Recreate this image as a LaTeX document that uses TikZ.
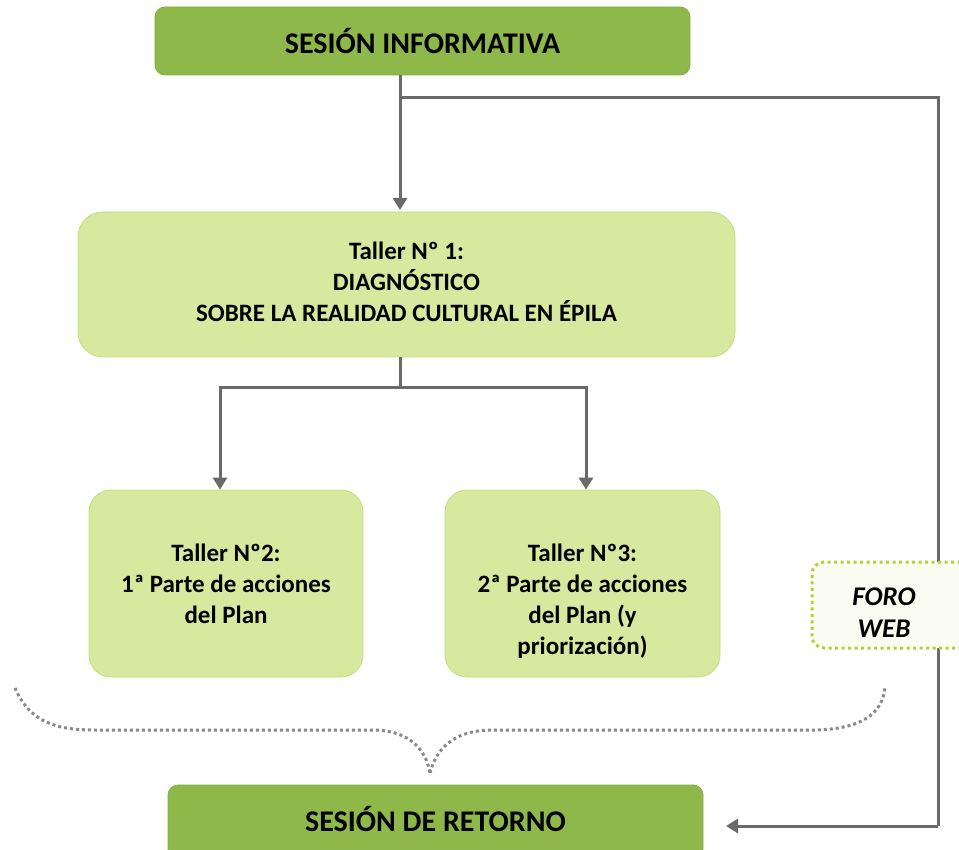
\documentclass[tikz,border=0pt]{standalone}
\usepackage{fontspec}
\setmainfont{Carlito}
\usetikzlibrary{arrows.meta}
\definecolor{darkg}{HTML}{8FB84A}
\definecolor{darkgb}{HTML}{86AE42}
\definecolor{lightg}{HTML}{D6E99E}
\definecolor{lightgb}{HTML}{C4DC7C}
\definecolor{lineg}{HTML}{6A6A6A}
\definecolor{dotg}{HTML}{8A8A8A}
\definecolor{forob}{HTML}{B2D235}
\definecolor{forof}{HTML}{FBFCF1}
\begin{document}
\begin{tikzpicture}[x=1pt,y=-1pt,
  mainbox/.style={draw=darkgb,fill=darkg,rounded corners=10pt,line width=0.8pt,
    font=\fontsize{30}{34}\selectfont\bfseries,align=center,inner sep=0pt},
  tallerbox/.style={draw=lightgb,fill=lightg,rounded corners=22pt,line width=0.8pt,
    font=\fontsize{25}{31}\selectfont\bfseries,align=center,inner sep=0pt},
  conn/.style={draw=lineg,line width=3pt},
  arr/.style={conn,-{Triangle[width=14pt,length=12pt]}},
  bracedots/.style={draw=dotg,line width=3pt,dash pattern=on 3pt off 3pt},
]
\clip (0,0) rectangle (959,850);
\fill[white] (0,0) rectangle (959,850);

\node[mainbox,minimum width=535pt,minimum height=68pt] (si) at (422.5,41) {SESIÓN INFORMATIVA};
\node[tallerbox,rounded corners=25pt,minimum width=657pt,minimum height=145pt] (t1) at (406.5,284.5)
  {Taller Nº 1:\\DIAGNÓSTICO\\SOBRE LA REALIDAD CULTURAL EN ÉPILA\\[-25pt]\mbox{}};
\node[tallerbox,minimum width=274pt,minimum height=187pt] (t2) at (226,583.5)
  {Taller Nº2:\\1ª Parte de acciones\\del Plan};
\node[tallerbox,minimum width=275pt,minimum height=187pt] (t3) at (582.5,583.5)
  {\mbox{}\\[21pt]Taller Nº3:\\2ª Parte de acciones\\del Plan (y\\priorización)};
\node[mainbox,minimum width=535pt,minimum height=74pt] (sr) at (435.5,822) {\raisebox{6pt}{SESIÓN DE RETORNO}};

% connectors
\coordinate (top) at (400,75);
\coordinate (br1) at (400,98);
\coordinate (rt) at (938,98);
\coordinate (rb) at (938,826);
\coordinate (tip) at (726,826);
\draw[arr] (top) -- (400,210);
\draw[conn] (br1) -- (rt) -- (rb);
\draw[arr] (rb) -- (tip);

\coordinate (t1b) at (400,357);
\coordinate (h) at (400,388);
\coordinate (hl) at (220,388);
\coordinate (hr) at (586,388);
\draw[conn] (t1b) -- (h);
\draw[conn,line cap=rect] (hl) -- (hr);
\draw[arr] (hl) -- (t2.north -| hl);
\draw[arr] (hr) -- (t3.north -| hr);

% foro web
\node[draw=forob,fill=forof,line width=3pt,dash pattern=on 3pt off 3.5pt,rounded corners=12pt,
  minimum width=180pt,minimum height=86pt] (foro) at (902,605) {};
\begin{scope}
\clip (812,562) rectangle (959,636);
\node[font=\fontsize{27}{32}\selectfont\bfseries\itshape,align=center] (forot) at (884,613) {FORO\\WEB};
\end{scope}

% brace
\draw[bracedots] (15,688) .. controls (30,722) and (55,730) .. (95,730) -- (375,730)
  .. controls (410,731) and (426,750) .. (430,773);
\draw[bracedots] (430,773) .. controls (436,750) and (452,731) .. (490,730) -- (815,730)
  .. controls (860,729) and (882,715) .. (885,688);
\end{tikzpicture}
\end{document}
